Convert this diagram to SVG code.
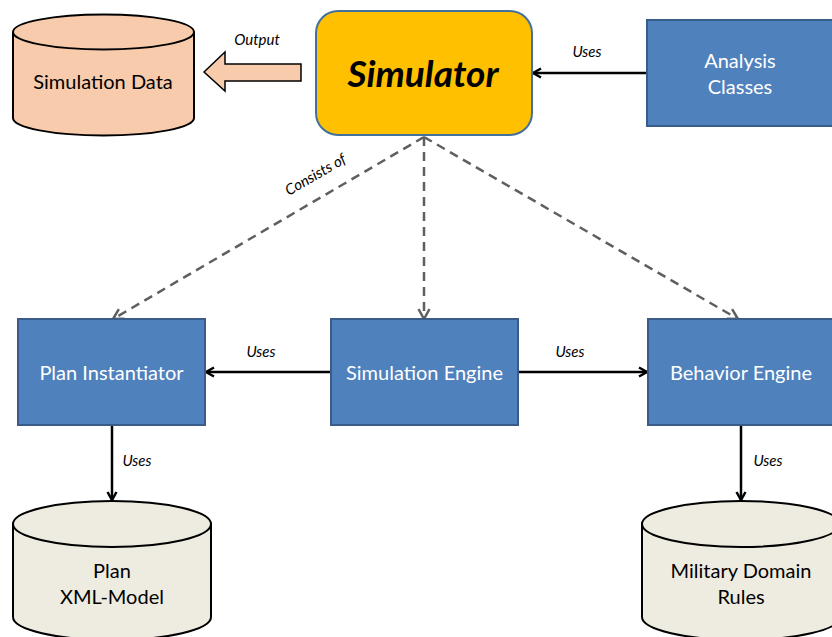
<svg xmlns="http://www.w3.org/2000/svg" width="832" height="637" viewBox="0 0 832 637">
<defs>
<style>
.box{fill:#4F81BD;stroke:#385D8A;stroke-width:2}
.bt{font-family:Lato,"Open Sans",sans-serif;font-size:20px;fill:#ffffff;text-anchor:middle}
.ct{font-family:Lato,"Open Sans",sans-serif;font-size:20px;fill:#000000;text-anchor:middle}
.lbl{font-family:Lato,"Open Sans",sans-serif;font-size:15px;font-style:italic;fill:#000000;text-anchor:middle}
.cyl{stroke:#000;stroke-width:2}
.solid{stroke:#000;stroke-width:2.5;fill:none}
.dash{stroke:#5f5f5f;stroke-width:2.5;fill:none;stroke-dasharray:9 6}
</style>
<marker id="arrB" viewBox="0 0 12 12" refX="10" refY="6" markerWidth="12" markerHeight="12" markerUnits="userSpaceOnUse" orient="auto">
<path d="M2,1.5 L10,6 L2,10.5" fill="none" stroke="#000" stroke-width="2.5"/>
</marker>
<marker id="arrG" viewBox="0 0 14 14" refX="12" refY="7" markerWidth="14" markerHeight="14" markerUnits="userSpaceOnUse" orient="auto">
<path d="M2,1.5 L12,7 L2,12.5" fill="none" stroke="#5f5f5f" stroke-width="2.5"/>
</marker>
</defs>
<rect width="832" height="637" fill="#ffffff"/>

<g id="connectors">
<polygon points="204,72 225,52 225,64 301,64 301,81 225,81 225,91" fill="#F8CBAD" stroke="#000" stroke-width="1.5"/>
<text class="lbl" x="257" y="45">Output</text>
<line class="solid" x1="647" y1="73" x2="533" y2="73" marker-end="url(#arrB)"/>
<text class="lbl" x="587" y="57">Uses</text>
<line class="dash" x1="424" y1="137" x2="113" y2="319" marker-end="url(#arrG)"/>
<line class="dash" x1="424" y1="137" x2="424" y2="319" marker-end="url(#arrG)"/>
<line class="dash" x1="424" y1="137" x2="738" y2="319" marker-end="url(#arrG)"/>
<text class="lbl" transform="translate(318,179) rotate(-30)">Consists of</text>
<line class="solid" x1="331" y1="372" x2="206" y2="372" marker-end="url(#arrB)"/>
<text class="lbl" x="261" y="357">Uses</text>
<line class="solid" x1="518" y1="372" x2="647" y2="372" marker-end="url(#arrB)"/>
<text class="lbl" x="570" y="357">Uses</text>
<line class="solid" x1="112" y1="426" x2="112" y2="500" marker-end="url(#arrB)"/>
<text class="lbl" x="137" y="466">Uses</text>
<line class="solid" x1="741" y1="426" x2="741" y2="500" marker-end="url(#arrB)"/>
<text class="lbl" x="768" y="466">Uses</text>
</g>

<g id="simulation-data">
<path class="cyl" fill="#F8CBAD" d="M13,32 A90.5,17.5 0 0 1 194,32 L194,118 A90.5,17.5 0 0 1 13,118 Z"/>
<path class="cyl" fill="none" d="M13,32 A90.5,17.5 0 0 0 194,32"/>
<text class="ct" x="103" y="89">Simulation Data</text>
</g>

<g id="simulator">
<rect x="316" y="11" width="216" height="124" rx="22" ry="22" fill="#FFC000" stroke="#41719C" stroke-width="2"/>
<text x="423" y="87" font-family="Lato,'Open Sans',sans-serif" font-size="37" font-weight="bold" font-style="italic" fill="#000" text-anchor="middle">Simulator</text>
</g>

<g id="analysis-classes">
<rect class="box" x="647" y="20" width="188" height="106"/>
<text class="bt" x="740" y="68">Analysis</text>
<text class="bt" x="740" y="94">Classes</text>
</g>

<g id="plan-instantiator">
<rect class="box" x="18" y="319" width="187" height="106"/>
<text class="bt" x="111.5" y="380">Plan Instantiator</text>
</g>

<g id="simulation-engine">
<rect class="box" x="331" y="319" width="187" height="106"/>
<text class="bt" x="424.5" y="380">Simulation Engine</text>
</g>

<g id="behavior-engine">
<rect class="box" x="648" y="319" width="187" height="106"/>
<text class="bt" x="741" y="380">Behavior Engine</text>
</g>

<g id="plan-xml-model">
<path class="cyl" fill="#EEECE1" d="M13,524 A99,23 0 0 1 211,524 L211,617 A99,23 0 0 1 13,617 Z"/>
<path class="cyl" fill="none" d="M13,524 A99,23 0 0 0 211,524"/>
<text class="ct" x="112" y="578">Plan</text>
<text class="ct" x="112" y="604">XML-Model</text>
</g>

<g id="military-domain-rules">
<path class="cyl" fill="#EEECE1" d="M642,524 A99,23 0 0 1 840,524 L840,617 A99,23 0 0 1 642,617 Z"/>
<path class="cyl" fill="none" d="M642,524 A99,23 0 0 0 840,524"/>
<text class="ct" x="741" y="578">Military Domain</text>
<text class="ct" x="741" y="604">Rules</text>
</g>
</svg>
